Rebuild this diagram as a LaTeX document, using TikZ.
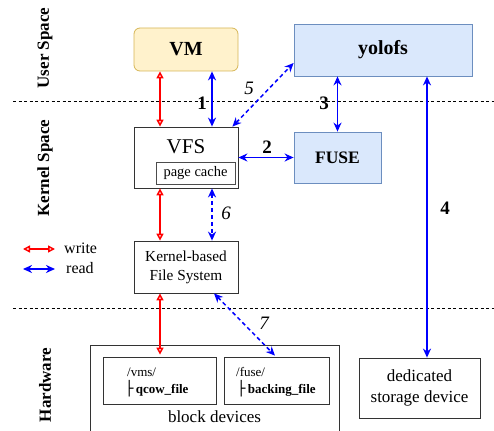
\documentclass[tikz,border=0pt]{standalone}
\usepackage{fontspec}
\setmainfont{Liberation Serif}
\newfontfamily\boxfont{DejaVu Sans}
\usetikzlibrary{arrows.meta,calc}
\definecolor{vmfill}{HTML}{FFF2CC}
\definecolor{vmdraw}{HTML}{D6B656}
\definecolor{bfill}{HTML}{DAE8FC}
\definecolor{bdraw}{HTML}{6C8EBF}
\newcommand{\fs}[1]{\fontsize{#1}{#1}\selectfont}
\tikzset{
  plainbox/.style={draw=black!80, line width=0.8pt, inner sep=0pt, align=center},
  bluebox/.style={draw=bdraw, fill=bfill, line width=0.8pt, inner sep=0pt, align=center},
  wr/.style={draw=red, line width=1.5pt, {Triangle[open,length=7pt,width=7pt]}-{Triangle[open,length=7pt,width=7pt]}},
  rd/.style={draw=blue, line width=1.5pt, {Stealth[length=9pt,width=8pt]}-{Stealth[length=9pt,width=8pt]}},
  rdd/.style={rd, dash pattern=on 4pt off 3pt},
  sep/.style={draw=black, line width=0.6pt, dash pattern=on 3pt off 2.5pt},
  num/.style={font=\bfseries\fs{19}},
  inum/.style={font=\itshape\fs{19}},
  side/.style={rotate=90, font=\bfseries\fs{17}}
}
\begin{document}
\begin{tikzpicture}[x=1pt,y=-1pt]
\useasboundingbox (0,0) rectangle (494,430);
% separators
\coordinate (l1) at (13,101); \coordinate (r1) at (494,101);
\coordinate (l2) at (13,308); \coordinate (r2) at (494,308);
\draw[sep] (l1) -- (r1);
\draw[sep] (l2) -- (r2);
% side labels
\node[side] (us) at (45,48) {User Space};
\node[side] (ks) at (45,168) {Kernel Space};
\node[side] (hw) at (45,385) {Hardware};
% boxes
\node[draw=vmdraw, fill=vmfill, line width=0.8pt, rounded corners=6pt, minimum width=104pt, minimum height=43pt, font=\bfseries\fs{20}] (vm) at (186,49.5) {VM};
\node[bluebox, minimum width=178pt, minimum height=52pt, font=\bfseries\fs{20}] (yolo) at (383,50) {yolofs};
\node[bluebox, minimum width=87pt, minimum height=51pt, font=\bfseries\fs{17.5}] (fuse) at (337.5,157.5) {FUSE};
\node[plainbox, minimum width=104pt, minimum height=61pt] (vfs) at (186,157.5) {};
\node[font=\fs{21}] (vfst) at (186,147) {VFS};
\node[draw=black!70, line width=0.8pt, minimum width=79pt, minimum height=22pt, inner sep=0pt, font=\fs{14.5}] (pc) at (195.5,173) {page cache};
\node[plainbox, minimum width=104pt, minimum height=52pt, font=\fontsize{15.3}{19}\selectfont] (kfs) at (186,267) {Kernel-based\\File System};
% block devices (bottom edge outside the picture)
\coordinate (bd1) at (90,432); \coordinate (bd2) at (90,345);
\coordinate (bd3) at (339,345); \coordinate (bd4) at (339,432);
\draw[black!80, line width=0.8pt] (bd1) -- (bd2) -- (bd3) -- (bd4);
\node[font=\fs{17}] (bdt) at (214.5,417) {block devices};
\node[plainbox, minimum width=113pt, minimum height=47pt] (vms) at (159.5,380.5) {};
\node[plainbox, minimum width=105pt, minimum height=47pt] (fb) at (276.5,380.5) {};
\node[anchor=west, inner sep=0pt, font=\fs{13}] (vmsa) at (127,372) {/vms/};
\node[anchor=west, inner sep=0pt, font=\fs{13}] (vmsb) at (125,389) {{\boxfont\fs{14}├}\,\textbf{qcow\_file}};
\node[anchor=west, inner sep=0pt, font=\fs{13}] (fba) at (236,372) {/fuse/};
\node[anchor=west, inner sep=0pt, font=\fs{13}] (fbb) at (237,389) {{\boxfont\fs{14}├}\,\textbf{backing\_file}};
\node[plainbox, minimum width=121pt, minimum height=60pt, font=\fontsize{17}{21}\selectfont] (ded) at (419.5,388) {dedicated\\storage device};
% x guides
\coordinate (rx) at (160,0);
\coordinate (bx) at (212,0);
\coordinate (sx) at (427,0);
\coordinate (sevx) at (214,0);
\coordinate (sevt) at (275,0);
% arrows
\draw[wr] (vm.south -| rx) -- (vfs.north -| rx);
\draw[rd] (vm.south -| bx) -- (vfs.north -| bx);
\draw[rdd] ([xshift=-6pt]vfs.north east) -- ([yshift=-13pt]yolo.west);
\draw[rd] (vfs.east) -- (fuse.west);
\draw[rd] (yolo.south -| fuse.north) -- (fuse.north);
\draw[rd] (yolo.south -| sx) -- (ded.north -| sx);
\draw[wr] (vfs.south -| rx) -- (kfs.north -| rx);
\draw[rdd] (vfs.south -| bx) -- (kfs.north -| bx);
\draw[wr] (kfs.south -| rx) -- ([yshift=2pt]vms.north -| rx);
\draw[rdd] (kfs.south -| sevx) -- ([yshift=1pt]fb.north -| sevt);
% numbers
\node[num] (n1) at (202,103) {1};
\node[num] (n2) at (267,147) {2};
\node[num] (n3) at (324,103) {3};
\node[num] (n4) at (445,208) {4};
\node[inum] (n5) at (249,88) {5};
\node[inum] (n6) at (226,213) {6};
\node[inum] (n7) at (264,323) {7};
% legend
\coordinate (lw1) at (23,249); \coordinate (lw2) at (55,249);
\coordinate (lr1) at (23,269); \coordinate (lr2) at (55,269);
\draw[wr] (lw1) -- (lw2);
\draw[rd] (lr1) -- (lr2);
\node[anchor=west, font=\fs{16}, inner sep=0pt] (lwt) at (64,248) {write};
\node[anchor=west, font=\fs{16}, inner sep=0pt] (lrt) at (66,268) {read};
\end{tikzpicture}
\end{document}
